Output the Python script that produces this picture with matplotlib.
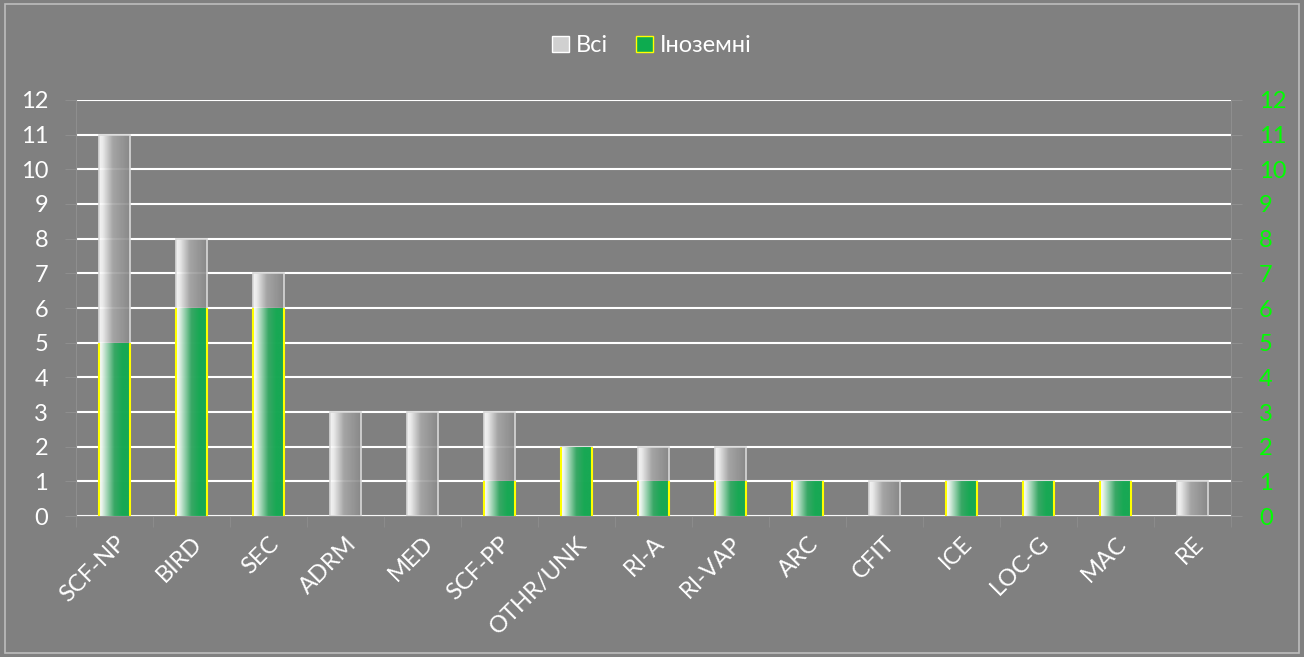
import numpy as np
import matplotlib
matplotlib.use("Agg")
import matplotlib.pyplot as plt
from matplotlib.colors import LinearSegmentedColormap
from matplotlib.patches import Patch, Rectangle

plt.rcParams['font.family'] = ['Lato', 'DejaVu Sans']

categories = ["SCF-NP", "BIRD", "SEC", "ADRM", "MED", "SCF-PP", "OTHR/UNK",
              "RI-A", "RI-VAP", "ARC", "CFIT", "ICE", "LOC-G", "MAC", "RE"]
all_counts = [11, 8, 7, 3, 3, 3, 2, 2, 2, 1, 1, 1, 1, 1, 1]
foreign_counts = [5, 6, 6, 0, 0, 1, 2, 1, 1, 1, 0, 1, 1, 1, 0]
legend_labels = ["Всі", "Іноземні"]

bg = "#808080"
gray_cmap = LinearSegmentedColormap.from_list(
    "g", [(0, "#ffffff"), (0.12, "#f4f4f4"), (0.45, "#a8a8a8"), (1, "#8a8a8a")])
green_cmap = LinearSegmentedColormap.from_list(
    "gr", [(0, "#ffffff"), (0.1, "#e6f3ea"), (0.5, "#2fa860"), (0.75, "#0dab4f"), (1, "#0dab4f")])


def grad_fill(ax, bars, cmap):
    grad = np.linspace(0, 1, 256).reshape(1, -1)
    for b in bars:
        x, y, w, h = b.get_x(), b.get_y(), b.get_width(), b.get_height()
        if h <= 0:
            continue
        im = ax.imshow(grad, cmap=cmap, extent=(x, x + w, y, y + h),
                       aspect='auto', zorder=2, interpolation='bilinear', alpha=0.92)
        im.set_clip_path(b)


fig = plt.figure(figsize=(13.04, 6.57), dpi=100, facecolor=bg)
ax = fig.add_axes([0.0583, 0.2146, 0.8857, 0.6332])
ax.set_facecolor(bg)
X = np.arange(len(categories))

bars1 = ax.bar(X, all_counts, width=0.4, facecolor='none', edgecolor='#d8d8d8',
               linewidth=1.2, zorder=3)
grad_fill(ax, bars1, gray_cmap)
ax.set_xlim(-0.5, len(categories) - 0.5)
ax.set_ylim(0, 12)
ax.set_yticks(range(13))
ax.grid(axis='y', color='white', linewidth=1.5, zorder=1)
ax.set_axisbelow(True)

ax2 = ax.twinx()
ax2.set_facecolor('none')
bars2 = ax2.bar(X, foreign_counts, width=0.4, facecolor='none', edgecolor='none',
                linewidth=0, zorder=3)
grad_fill(ax2, bars2, green_cmap)
for b in bars2:
    if b.get_height() > 0:
        ax2.vlines([b.get_x(), b.get_x() + b.get_width()], 0, b.get_height(),
                   color='#ffff00', linewidth=1.5, zorder=4)
ax2.set_xlim(-0.5, len(categories) - 0.5)
ax2.set_ylim(0, 12)
ax2.set_yticks(range(13))

for a in (ax, ax2):
    for s in a.spines.values():
        s.set_visible(False)
ax.spines['left'].set_visible(True)
ax.spines['left'].set_color('#8e8e8e')
ax.spines['bottom'].set_visible(True)
ax.spines['bottom'].set_color('#8e8e8e')
ax2.spines['right'].set_visible(True)
ax2.spines['right'].set_color('#8e8e8e')

ax.set_xticks(X)
ax.set_xticklabels(categories, rotation=45, ha='right', rotation_mode='anchor',
                   fontsize=17, color='white')
ax.set_xticks(np.arange(-0.5, len(categories)), minor=True)
ax.tick_params(axis='x', which='major', length=0, pad=12)
ax.tick_params(axis='x', which='minor', length=8, color='#8e8e8e')
ax.tick_params(axis='y', length=8, color='#8e8e8e', labelsize=17, labelcolor='white', pad=12)
ax2.tick_params(axis='y', length=8, color='#8e8e8e', labelsize=17, labelcolor='#00ff00', pad=12)

handles = [Patch(facecolor='#d0d0d0', edgecolor='white', label=legend_labels[0]),
           Patch(facecolor='#0dab4f', edgecolor='#ffff00', label=legend_labels[1])]
leg = fig.legend(handles=handles, loc='center', bbox_to_anchor=(0.5, 0.93), ncol=2,
                 frameon=False, fontsize=17, labelcolor='white', handlelength=0.7,
                 handleheight=0.7, handletextpad=0.3, columnspacing=1.2)

fig.add_artist(Rectangle((0.004, 0.006), 0.992, 0.988, transform=fig.transFigure,
                         fill=False, edgecolor='#bdbdbd', linewidth=1.2))

fig.savefig("out.png", dpi=100, facecolor=bg)
